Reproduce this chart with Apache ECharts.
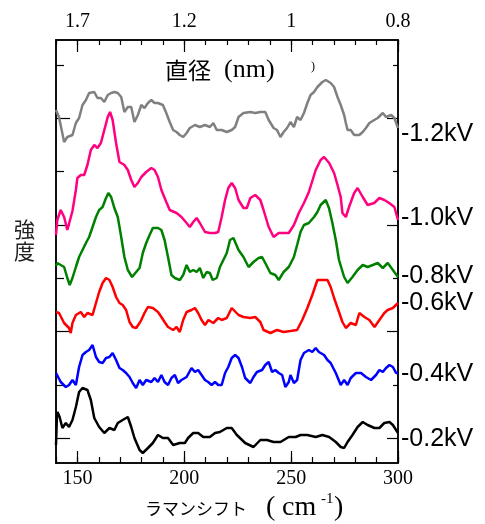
<!DOCTYPE html>
<html>
<head>
<meta charset="utf-8">
<script src="https://cdn.jsdelivr.net/npm/echarts@6/dist/echarts.min.js"></script>
<style>
  html, body { margin: 0; padding: 0; background: #fff; }
  #chart { width: 485px; height: 524px; }
</style>
</head>
<body>
<div id="chart"></div>
<script>
// ---- Data (Raman shift in cm^-1, intensity in arbitrary offset units) ----
const shiftTicks = [150, 200, 250, 300];
const diameterLabels = ['1.7', '1.2', '1', '0.8'];
const seriesNames = ['-1.2kV', '-1.0kV', '-0.8kV', '-0.6kV', '-0.4kV', '-0.2kV'];
const majorLevelTicks = [25, 131.5, 238, 345];
const minorLevelTicks = [78, 185, 291.5, 398];

const spec12 = [[140,353],[141.4,346],[143.8,321],[145.3,326],[147.7,328],[149.3,340],[150.8,345],[152.4,358],[154,363],[155.5,370],[157.9,371],[159.4,365],[161,365],[162.6,361],[164.2,368],[165.8,370],[167.4,371],[168.9,370],[170.5,366],[172,351],[173.6,356],[175.2,356],[176.7,341],[178.3,348],[179.9,358],[181.4,355],[183,360],[184.6,363],[186.1,360],[187.7,360],[190,358],[191.6,350],[193.2,341],[194.8,333],[196.4,331],[197.9,328],[199.5,326],[201.1,330],[202.6,335],[205,338],[207.3,336],[209.7,338],[212,336],[213.6,340],[215.2,333],[217.5,333],[219.9,331],[222.2,333],[223.8,336],[225.4,346],[227.7,350],[230.9,351],[233.2,350],[235.6,351],[237.9,351],[239.5,343],[241.8,335],[243.4,333],[245,326],[246.5,331],[248.1,335],[249.7,341],[251.3,336],[252.8,346],[254.4,343],[256,350],[257.6,360],[259.1,368],[260.7,371],[262.3,376],[264.6,381],[266.2,383],[268.5,380],[270.1,376],[271.7,366],[273.2,358],[274.8,348],[275.6,340],[276.4,333],[277.9,333],[279.5,328],[281.9,328],[283.5,331],[285,335],[286.6,340],[288.9,343],[290.5,345],[292.9,350],[294.4,346],[296.8,348],[298.3,345],[300,335]];
const spec10 = [[140,228],[140.6,243],[142.2,253],[143.8,246],[145.3,233],[146.1,231],[147.7,252],[149.3,273],[150,285],[151.6,288],[153.2,288],[154.7,298],[156.3,313],[157.9,318],[159.4,315],[161,320],[162.6,333],[164.2,346],[165.3,351],[166.5,343],[168.1,320],[169.7,301],[172,298],[173.6,293],[175.2,283],[176.7,276],[178.3,280],[179.9,286],[182.2,291],[184.6,295],[186.1,293],[187.7,286],[189.3,273],[191.6,261],[193.2,253],[196.4,250],[198.7,246],[201.1,240],[202.6,236],[204.2,241],[205.8,245],[207.3,240],[209.7,231],[212,230],[214.4,230],[215.9,231],[217.5,246],[219.1,263],[220.6,275],[222.2,280],[223.8,275],[225.4,263],[227.7,255],[229.3,255],[230.9,265],[233.2,268],[235.6,263],[237.1,253],[239.5,236],[241.8,226],[244.2,230],[246.5,230],[248.9,230],[251.3,238],[253.6,250],[256,260],[258.3,271],[261.5,293],[263.8,303],[265.4,306],[267.8,300],[270.1,290],[271.7,278],[273.2,266],[274,250],[275.6,246],[277.1,256],[279.5,270],[281.1,275],[283.5,266],[285.8,258],[288.9,260],[291.3,265],[293.6,263],[295.9,260],[298.3,256],[300,243]];
const spec08 = [[140,197],[140.6,200],[142.2,198],[143.8,196],[145.3,185],[146.4,178],[147.7,185],[149.3,196],[150.8,206],[152.4,213],[154,220],[155.5,226],[157.1,236],[158.7,246],[160.2,253],[161.8,256],[163.4,265],[164.5,270],[165.8,266],[167.3,255],[168.9,246],[170.5,226],[172,206],[173.6,193],[175.6,186],[177.5,191],[179.1,195],[180.6,210],[182.2,220],[183.8,228],[185.3,235],[187.7,235],[189.3,233],[190.8,223],[192.4,206],[194,188],[195.6,185],[197.9,183],[199.5,188],[201.1,198],[202.6,191],[204.2,193],[205.8,191],[207.3,195],[208.9,185],[210.5,191],[212,190],[213.3,183],[215.2,185],[216.7,196],[218.3,203],[219.9,210],[221.4,223],[223,225],[223.8,221],[225.4,213],[227.7,206],[230.1,196],[232.4,201],[234.8,205],[236.4,206],[237.9,200],[240.3,190],[242.6,188],[244.2,183],[246.5,191],[248.9,196],[251.3,206],[252.8,218],[254.4,231],[256,238],[258.3,240],[260.7,246],[262.3,251],[263.8,258],[266.2,263],[267.7,255],[269.3,240],[270.9,223],[272.4,203],[274.8,186],[276.4,180],[278.7,186],[281.1,193],[283.5,198],[285.8,196],[288.2,198],[290.5,200],[292.9,195],[295.2,200],[297.6,193],[300,186]];
const spec06 = [[140,151],[141.4,150],[143.8,140],[146.1,135],[146.9,130],[147.7,140],[149.3,148],[151.6,151],[153.2,146],[154.7,150],[157.1,148],[158.7,160],[160.2,171],[161.8,180],[163.4,185],[165,183],[166.5,176],[168.1,166],[169.7,160],[171.2,158],[172.8,153],[174.4,141],[175.9,136],[177.5,135],[179.1,140],[179.9,143],[181.4,150],[183,156],[185.3,155],[187.7,151],[189.3,146],[190.8,141],[192.4,136],[194.8,133],[196.4,136],[197.9,131],[199.5,143],[201.1,151],[203.4,153],[205,155],[206.5,150],[208.1,143],[209.7,138],[211.3,143],[213.6,140],[215.9,145],[217.5,143],[219.9,145],[222.2,155],[223,156],[225.4,148],[227.7,146],[230.9,145],[233.2,146],[235.6,141],[237.1,133],[240.3,130],[243.4,133],[246.5,131],[249.7,132],[252.8,133],[255.2,143],[257.6,155],[259.9,168],[262.3,183],[264.6,183],[267,183],[268.5,176],[270.1,165],[272.4,151],[274,141],[275.6,135],[277.9,140],[280.3,138],[281.9,150],[284.3,146],[286.6,143],[289,136],[291.3,143],[293.6,150],[295.2,153],[297.6,155],[300,160]];
const spec04 = [[140,90],[140.6,90],[142.2,81],[144.6,76],[146.1,78],[147.7,83],[149.3,78],[150.8,96],[152.4,108],[154,111],[155.5,113],[157.1,118],[158.7,106],[160.2,101],[161.8,100],[163.4,105],[165,106],[166.5,110],[168.1,103],[169.7,95],[171.2,93],[172.8,90],[174.4,86],[175.9,80],[177.5,75],[179.1,83],[180.6,78],[182.2,83],[184.6,81],[186.1,85],[187.7,81],[189.3,88],[190.8,81],[192.4,78],[194,85],[195.6,88],[197.1,80],[198.7,83],[201.1,86],[203.4,95],[205,91],[206.5,93],[208.1,88],[209.7,83],[211.2,81],[212.8,78],[214.4,81],[215.9,78],[217.5,78],[219.1,90],[220.6,96],[222.2,105],[223.8,108],[225.4,105],[227,96],[228.5,85],[230.9,80],[232.4,86],[234,91],[236.4,93],[237.9,98],[239.5,101],[241.1,91],[242.6,93],[244.2,90],[245.8,88],[247.3,76],[248.9,81],[249.7,88],[251.3,80],[252.8,83],[254.4,103],[256,110],[258.3,113],[259.9,111],[261.5,115],[263,111],[265.4,108],[267,103],[268.5,100],[270.9,90],[273.2,78],[274.8,83],[276.4,78],[277.9,85],[280.3,90],[282.7,90],[285,86],[287.4,83],[289.7,88],[291.3,93],[292.9,91],[294.4,95],[296,98],[297.6,96],[299.1,90],[300,90]];
const spec02 = [[140,18],[140.4,45],[140.7,51],[141.7,46],[143,35],[144.6,40],[146.1,36],[147.7,43],[149.3,56],[150.8,71],[152.4,75],[154.7,73],[156.3,63],[157.9,45],[160.2,36],[162.6,30],[165,35],[167.3,33],[168.9,40],[171.2,43],[173.6,46],[175.2,36],[176.7,25],[179.1,13],[180.6,10],[183,15],[185.3,20],[187.7,28],[190,25],[192.4,25],[194.8,18],[197.9,20],[200.3,20],[201.8,25],[204.2,30],[206.5,30],[208.9,26],[212,26],[214.4,30],[216.7,31],[219.9,35],[222.2,35],[224.6,28],[228.5,20],[232.4,16],[235.6,23],[238.7,23],[241.8,21],[245,21],[248.9,26],[252.1,26],[254.4,28],[257.6,28],[261.5,26],[264.6,28],[267.8,26],[270.9,21],[273.2,16],[274.8,15],[276.4,21],[278.7,28],[281.1,36],[283.5,41],[285.8,38],[289,35],[291.3,35],[293.6,40],[296,41],[297.6,38],[299.1,33],[300,30]];

// ---- Chart ----
const allSpectra = [spec12, spec10, spec08, spec06, spec04, spec02];
const lineColors = ['#808080', '#ff0080', '#008000', '#ff0000', '#0000ff', '#000000'];
const labelOffsets = [[0, 6], [0, -2], [0, -1], [0, 0], [0, 1], [0, 6]];

const chart = echarts.init(document.getElementById('chart'), null, { renderer: 'canvas' });

const serifFont = 'Liberation Serif';
const X_MIN = 140, X_MAX = 300, Y_MIN = 0, Y_MAX = 423;

function xAx(pos, extra) {
  return Object.assign({
    type: 'value', position: pos, min: X_MIN, max: X_MAX,
    axisLine: { show: true, onZero: false, lineStyle: { color: '#000', width: 1.5 } },
    splitLine: { show: false },
    axisLabel: { show: false },
    axisTick: { show: false }
  }, extra);
}
function yAx(pos, ticks, len) {
  return {
    type: 'value', position: pos, min: Y_MIN, max: Y_MAX, offset: 0,
    axisLine: { show: true, onZero: false, lineStyle: { color: '#000', width: 1.5 } },
    splitLine: { show: false },
    axisLabel: { show: false },
    axisTick: { show: true, inside: true, length: len, customValues: ticks, lineStyle: { color: '#000', width: 1.2 } }
  };
}

const option = {
  animation: false,
  backgroundColor: '#fff',
  grid: { left: 56, right: 87, top: 40, bottom: 61, containLabel: false },
  xAxis: [
    xAx('bottom', { interval: 10, axisTick: { show: true, inside: true, length: 6, lineStyle: { color: '#000', width: 1.2 } } }),
    xAx('bottom', {
      axisTick: { show: true, inside: true, length: 12, customValues: shiftTicks, lineStyle: { color: '#000', width: 1.2 } },
      axisLabel: { show: true, customValues: shiftTicks, fontFamily: serifFont, fontSize: 20, color: '#000', margin: 6 }
    }),
    xAx('top', { interval: 10, axisTick: { show: true, inside: true, length: 5, lineStyle: { color: '#000', width: 1.2 } } }),
    xAx('top', {
      axisTick: { show: true, inside: true, length: 12, customValues: shiftTicks, lineStyle: { color: '#000', width: 1.2 } },
      axisLabel: {
        show: true, customValues: shiftTicks, fontFamily: serifFont, fontSize: 20, color: '#000', margin: 8,
        formatter: v => diameterLabels[shiftTicks.indexOf(v)] ?? ''
      }
    })
  ],
  yAxis: [
    yAx('left', majorLevelTicks, 14),
    yAx('left', minorLevelTicks, 8),
    yAx('right', majorLevelTicks, 11),
    yAx('right', minorLevelTicks, 5)
  ],
  series: allSpectra.map((d, i) => ({
    name: seriesNames[i],
    type: 'line',
    xAxisIndex: 0, yAxisIndex: 0,
    data: d,
    showSymbol: false,
    symbol: 'none',
    clip: false,
    lineStyle: { color: lineColors[i], width: 2.5 },
    itemStyle: { color: lineColors[i] },
    endLabel: {
      show: true,
      formatter: p => p.seriesName,
      fontFamily: 'Liberation Sans',
      fontSize: 25,
      color: '#000',
      distance: 3,
      offset: labelOffsets[i]
    }
  })),
  graphic: [
    {
      type: 'text', left: 165, top: 57, silent: true,
      style: {
        text: '{a|直径}{b|  (nm)}',
        rich: {
          a: { fontFamily: 'Noto Sans CJK JP', fontSize: 23, fill: '#000', color: '#000' },
          b: { fontFamily: serifFont, fontSize: 26, fill: '#000', color: '#000' }
        }
      }
    },
    { type: 'text', left: 311, top: 61, silent: true,
      style: { text: ')', font: '12px "Liberation Serif"', fill: '#000' } },
    { type: 'text', left: 14, top: 218, silent: true,
      style: { text: '強\n度', font: '21px "Noto Sans CJK JP"', lineHeight: 22, fill: '#222' } },
    { type: 'text', left: 145, top: 500, silent: true,
      style: { text: 'ラマンシフト', font: '17px "Noto Sans CJK JP"', fill: '#000' } },
    { type: 'text', left: 266, top: 494, silent: true,
      style: { text: '(', font: '28px "Liberation Serif"', fill: '#000' } },
    { type: 'text', left: 282, top: 494, silent: true,
      style: { text: 'cm', font: '28px "Liberation Serif"', fill: '#000' } },
    { type: 'text', left: 321, top: 492, silent: true,
      style: { text: '-1', font: '15px "Liberation Serif"', fill: '#000' } },
    { type: 'text', left: 334, top: 494, silent: true,
      style: { text: ')', font: '28px "Liberation Serif"', fill: '#000' } }
  ]
};
chart.setOption(option);
</script>
</body>
</html>
